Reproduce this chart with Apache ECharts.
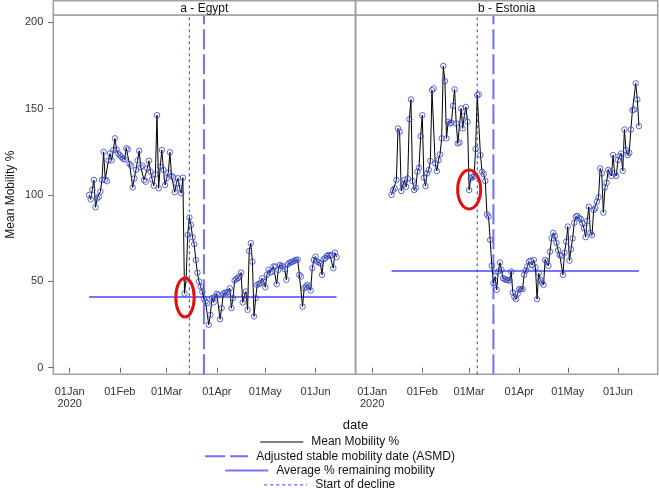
<!DOCTYPE html>
<html><head><meta charset="utf-8">
<script src="https://cdn.jsdelivr.net/npm/echarts@6/dist/echarts.min.js"></script>
<style>html,body{margin:0;padding:0;background:#fff}#c{width:659px;height:488px}</style>
</head><body><div id="c"></div>
<script>
// ---------- data ----------
const startDate = '2020-01-13';
const egyptMobility = [
 100, 97.5, 103, 108.7, 92.9, 98, 99, 102, 108.7, 125,
 109, 108, 120, 124, 120, 126, 132.8, 126.4, 124, 123,
 122, 121, 120.6, 127, 126.4, 118, 117, 104.4, 109.6, 114.5,
 120, 125.6, 116, 117, 108.7, 107.7, 115.4, 119.8, 113.5, 109,
 105.4, 112, 146.2, 103.9, 116.4, 126, 114.5, 105.8, 109.7, 112.9,
 124.7, 111, 110.2, 101.6, 106.8, 109.7, 104, 101, 110,
 43, 51, 77, 87, 82.7, 75.5, 71.5, 62.4, 55, 49.9, 47,
 44, 40, 38.3, 37.4, 24.9, 30.6, 40.3, 37.8, 41.2, 42.8,
 42.2, 28.1, 34.5, 42.8, 43.5, 43.2, 44, 46, 34.5, 40.3,
 50.5, 51.3, 51.8, 53, 55.1, 37.8, 41.6, 44.1, 33.5, 67.6,
 72.1, 61.4, 29.7, 40.3, 48, 48.6, 49, 51.8, 49.9, 46.6,
 53.8, 56.6, 55.1, 55.7, 58.6, 58.6, 48.4, 56.6, 59.5, 59,
 58.6, 57, 50.9, 59.9, 60.9, 61, 61.5, 62, 62.4, 62.6,
 53.8, 52.8, 35.4, 46, 47, 48, 47, 44.7, 57.6, 62.4,
 64.3, 61.4, 61, 60.5, 53.8, 62.8, 63.4, 64.7, 65.3, 64.7,
 65.3, 57.6, 66.6, 64
];
const estoniaMobility = [
 100, 102.9, 103.9, 108.7, 138.5, 136.6, 102.3, 105.8, 108.7, 104.8,
 109.6, 143.9, 155.3, 108.1, 102.9, 104.2, 113.5, 115.8, 134.1, 146.2,
 110, 105.2, 112.5, 114.5, 119.7, 160.7, 161.7, 118.3, 113.9, 120.2,
 123.5, 132.8, 174.7, 165.9, 132.8, 142.4, 141.4, 141.8, 151.6, 161.1,
 141.4, 129.9, 130.4, 150.1, 138.6, 145.8, 151, 142.4, 102.9, 109.6,
 110.6, 110.6, 126.6, 157.8, 158.2, 123.1, 113.5, 112, 108.1, 88.8,
 87.5, 74, 59.1, 49, 52.8, 45.1, 55.7, 60.9, 56.6, 51.8,
 51.3, 50.9, 50.7, 50.5, 55.7, 43.5, 41, 39.7, 42.8, 45.5,
 45.5, 45.5, 53.8, 56.2, 58.6, 61.5, 62, 59.5, 62.4, 58.2,
 39.7, 54.7, 50.9, 49.3, 48, 62.4, 61.5, 59, 67.2, 74.9,
 78.1, 76.2, 72.3, 68.1, 65.2, 64.7, 53.8, 66.6, 73, 81.7,
 62, 68.6, 74.9, 83.9, 87.5, 87.9, 86.6, 86, 83.7, 80.8,
 75.6, 85, 93.2, 78.1, 76.8, 91.3, 92.3, 96.1, 98.7, 115.4,
 112.5, 89.8, 104.4, 107.1, 114.5, 113.5, 111, 123.1, 112.5, 111,
 120.2, 122.5, 124, 114, 137.9, 126, 123.1, 124.4, 137.9, 149.1,
 149.5, 164.6, 155.3, 139.9
];
const panelTitles = ['a - Egypt', 'b - Estonia'];
const averageRemaining = [41, 56];
const startOfDecline = ['2020-03-15', '2020-03-06'];
const asmdDates = ['2020-03-24', '2020-03-16'];
const circledDates = ['2020-03-12', '2020-03-01'];
const xTickDates = ['2020-01-01', '2020-02-01', '2020-03-01', '2020-04-01', '2020-05-01', '2020-06-01'];
const xTickLabels = ['01Jan\n2020', '01Feb', '01Mar', '01Apr', '01May', '01Jun'];
const yTickValues = [0, 50, 100, 150, 200];
const seriesNames = ['Mean Mobility %', 'Adjusted stable mobility date (ASMD)', 'Average % remaining mobility', 'Start of decline'];

// ---------- helpers ----------
const DAY = 86400000;
const ms = s => Date.parse(s + 'T00:00:00Z');
const t0 = ms(startDate);
const toPairs = arr => arr.map((v, i) => [t0 + i * DAY, v]);
const allData = [egyptMobility, estoniaMobility];
const tickMs = xTickDates.map(ms);
const FONT = '"Liberation Sans", Arial, sans-serif';

const Y_MIN = -3.8, Y_MAX = 204.2;
const X_MIN = ms('2020-01-01') - 10.1 * DAY, X_MAX = ms('2020-01-01') + 176.6 * DAY;

const grids = [
  { left: 53.3, top: 15, width: 302, height: 359.3 },
  { left: 355.8, top: 15, width: 301.9, height: 359.3 }
];
const BORDER = '#a0a0a0';
const HIDE = 'rgba(0,0,0,0)';

const option = {
  animation: false,
  backgroundColor: '#fff',
  textStyle: { fontFamily: FONT },
  grid: grids.map(g => Object.assign({ show: true, borderColor: BORDER, borderWidth: 1.5, backgroundColor: 'transparent' }, g)),
  xAxis: grids.map((g, i) => ({
    type: 'value', gridIndex: i, min: X_MIN, max: X_MAX,
    axisLine: { show: false },
    splitLine: { show: false },
    axisTick: { show: true, customValues: tickMs, length: 5, lineStyle: { color: '#666' } },
    axisLabel: {
      customValues: tickMs, margin: 11, fontSize: 11, color: '#333', lineHeight: 12.5, fontFamily: FONT,
      formatter: v => { let k = 0, best = Infinity; tickMs.forEach((t, j) => { if (Math.abs(t - v) < best) { best = Math.abs(t - v); k = j; } }); return xTickLabels[k]; }
    }
  })),
  yAxis: grids.map((g, i) => ({
    type: 'value', gridIndex: i, min: Y_MIN, max: Y_MAX,
    axisLine: { show: false },
    splitLine: { show: false },
    axisTick: { show: i === 0, customValues: yTickValues, length: 5, lineStyle: { color: '#666' } },
    axisLabel: { show: i === 0, customValues: yTickValues, margin: 10, fontSize: 11, color: '#333', fontFamily: FONT },
    name: i === 0 ? 'Mean Mobility %' : '',
    nameLocation: 'middle', nameGap: 37,
    nameTextStyle: { fontSize: 12, color: '#111', fontFamily: FONT }
  })),
  legend: seriesNames.map((n, k) => ({
    data: [n], left: 'center', top: [441, 455.3, 469.6, 483.9][k] - 5,
    padding: 0, itemWidth: 43, itemHeight: 10,
    itemStyle: { color: HIDE, borderColor: HIDE, borderWidth: 0, opacity: 0 },
    lineStyle: { width: 'inherit' },
    textStyle: { fontSize: 12, color: '#111', fontFamily: FONT, padding: [0, 0, 0, 3] },
    selectedMode: false
  })),
  series: []
};

[0, 1].forEach(i => {
  const pairs = toPairs(allData[i]);
  option.series.push({
    name: seriesNames[0], type: 'line', xAxisIndex: i, yAxisIndex: i,
    data: pairs, symbol: 'none', lineStyle: { color: '#000', width: 1 }, itemStyle: { color: '#000' }, z: 3
  });
  option.series.push({
    name: 'points' + i, type: 'scatter', xAxisIndex: i, yAxisIndex: i,
    data: pairs, symbol: 'circle', symbolSize: 5.5,
    itemStyle: { color: HIDE, borderColor: '#3344cc', borderWidth: 1 }, z: 4
  });
  option.series.push({
    name: seriesNames[1], type: 'line', xAxisIndex: i, yAxisIndex: i,
    data: [[ms(asmdDates[i]), Y_MIN], [ms(asmdDates[i]), Y_MAX]], symbol: 'none',
    lineStyle: { color: '#6e6eff', width: 2, type: [20, 5] }, itemStyle: { color: '#6e6eff' }, z: 2
  });
  option.series.push({
    name: seriesNames[2], type: 'line', xAxisIndex: i, yAxisIndex: i,
    data: [[pairs[0][0], averageRemaining[i]], [pairs[pairs.length - 1][0], averageRemaining[i]]], symbol: 'none',
    lineStyle: { color: '#7676ff', width: 2 }, itemStyle: { color: '#7676ff' }, z: 2
  });
  option.series.push({
    name: seriesNames[3], type: 'line', xAxisIndex: i, yAxisIndex: i,
    data: [[ms(startOfDecline[i]), Y_MIN], [ms(startOfDecline[i]), Y_MAX]], symbol: 'none',
    lineStyle: { color: '#3535ff', width: 1, type: [3, 3] }, itemStyle: { color: '#3535ff' }, z: 2
  });
});

const chart = echarts.init(document.getElementById('c'), null, { renderer: 'canvas' });
chart.setOption(option);

// headers, axis title, circled annotations
const graphics = [];
grids.forEach((g, i) => {
  graphics.push({ type: 'rect', id: 'hdr' + i, shape: { x: g.left, y: 0.75, width: g.width, height: g.top - 0.75 },
    style: { fill: '#fff', stroke: BORDER, lineWidth: 1.5 }, z: 10 });
  graphics.push({ type: 'text', id: 'hdrt' + i, x: g.left + g.width / 2, y: 8.3,
    style: { text: panelTitles[i], fontSize: 12, fill: '#111', font: '12px ' + FONT, textAlign: 'center', textVerticalAlign: 'middle' }, z: 11 });
  const idx = Math.round((ms(circledDates[i]) - t0) / DAY);
  const p = chart.convertToPixel({ gridIndex: i }, [ms(circledDates[i]), allData[i][idx]]);
  graphics.push({ type: 'ellipse', id: 'ell' + i, shape: { cx: p[0] + (i === 0 ? 0.5 : 0), cy: p[1] + (i === 0 ? 4 : -0.5), rx: i === 0 ? 9.2 : 11.5, ry: 19.5 },
    style: { fill: 'none', stroke: '#e31010', lineWidth: 3 }, z: 12 });
});
graphics.push({ type: 'text', id: 'xname', x: (grids[0].left + grids[1].left + grids[1].width) / 2, y: 425,
  style: { text: 'date', font: '13px ' + FONT, fill: '#111', textAlign: 'center', textVerticalAlign: 'middle' } });
chart.setOption({ graphic: graphics });
</script>
</body></html>
